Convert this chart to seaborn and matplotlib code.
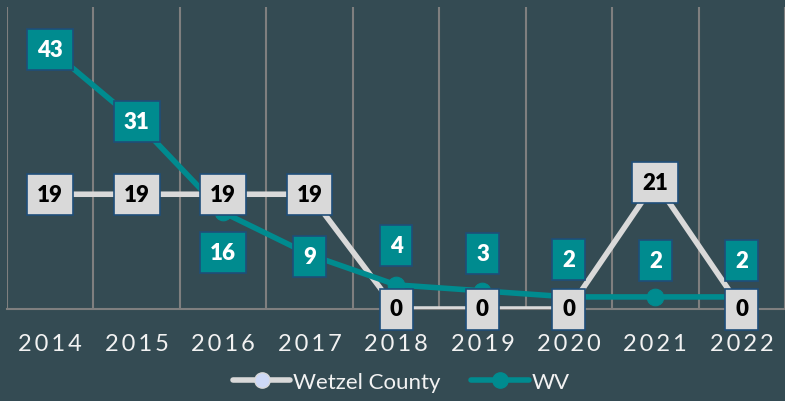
import numpy as np
import pandas as pd
import seaborn as sns
import matplotlib.pyplot as plt
from matplotlib.lines import Line2D

years = ['2014', '2015', '2016', '2017', '2018', '2019', '2020', '2021', '2022']
wetzel = [19, 19, 19, 19, 0, 0, 0, 21, 0]
wv = [43, 31, 16, 9, 4, 3, 2, 2, 2]
# label offsets for WV boxes (pixels): some sit on the point, some above/below
wv_dy = [0, 0, -40, -2, 39, 37, 37, 36, 36]

bg = '#344b53'
teal = '#008b8f'
light = '#d9d9d9'
edge = '#1f4e79'

sns.set_theme(style='white')
plt.rcParams['font.family'] = ['Lato', 'DejaVu Sans']

df = pd.DataFrame({'pos': np.arange(len(years)), 'Wetzel County': wetzel, 'WV': wv})

fig = plt.figure(figsize=(7.85, 4.02), dpi=100, facecolor=bg)
ax = fig.add_axes([7 / 785, 92 / 402, 778 / 785, 302 / 402])
ax.set_facecolor(bg)

sns.lineplot(data=df, x='pos', y='Wetzel County', ax=ax, color=light, lw=4,
             marker='o', markersize=11, markerfacecolor='#cdd9f7',
             markeredgecolor=light, zorder=3)
sns.lineplot(data=df, x='pos', y='WV', ax=ax, color=teal, lw=4,
             marker='o', markersize=12, markerfacecolor=teal,
             markeredgecolor=teal, zorder=4)

ax.set_xlim(-0.5, 8.40)
ax.set_ylim(0, 50)

# gridlines between categories
ax.set_xticks(np.arange(len(years)))
ax.set_xticklabels(['\u2009'.join(y) for y in years], color='#f2f2f2', fontsize=17)
ax.set_xticks(np.arange(-0.5, len(years), 1), minor=True)
ax.tick_params(axis='x', which='major', length=0, pad=17)
ax.tick_params(axis='x', which='minor', length=8, width=1.5, color='#7f7f7f', direction='out')
ax.grid(axis='x', which='minor', color='#7f7f7f', lw=1.5)
ax.set_yticks([])
ax.set_xlabel('')
ax.set_ylabel('')
for s in ['top', 'left', 'right']:
    ax.spines[s].set_visible(False)
ax.spines['bottom'].set_color('#7f7f7f')
ax.spines['bottom'].set_linewidth(1.5)
ax.set_axisbelow(True)

for i, v in enumerate(wetzel):
    ax.annotate(str(v), (i, v), ha='center', va='center', fontsize=16, fontweight='heavy',
                color='black', zorder=6,
                bbox=dict(boxstyle='square,pad=0.45', fc=light, ec=edge, lw=1.2))
for i, v in enumerate(wv):
    ax.annotate(str(v), (i, v), xytext=(0, wv_dy[i]), textcoords='offset pixels',
                ha='center', va='center', fontsize=16, fontweight='heavy',
                color='white', zorder=6,
                bbox=dict(boxstyle='square,pad=0.45', fc=teal, ec=edge, lw=1.2))

handles = [
    Line2D([], [], color=light, lw=4, marker='o', markersize=11,
           markerfacecolor='#cdd9f7', markeredgecolor=light),
    Line2D([], [], color=teal, lw=4, marker='o', markersize=11,
           markerfacecolor=teal, markeredgecolor=teal),
]
leg = fig.legend(handles, ['Wetzel County', 'WV'], loc='center', ncol=2,
                 bbox_to_anchor=(401 / 785, 1 - 383 / 402), frameon=False,
                 fontsize=16, handlelength=2.6, handletextpad=0.1, columnspacing=1.4)
for t in leg.get_texts():
    t.set_color('#f2f2f2')

fig.savefig('out.png', dpi=100, facecolor=bg)
